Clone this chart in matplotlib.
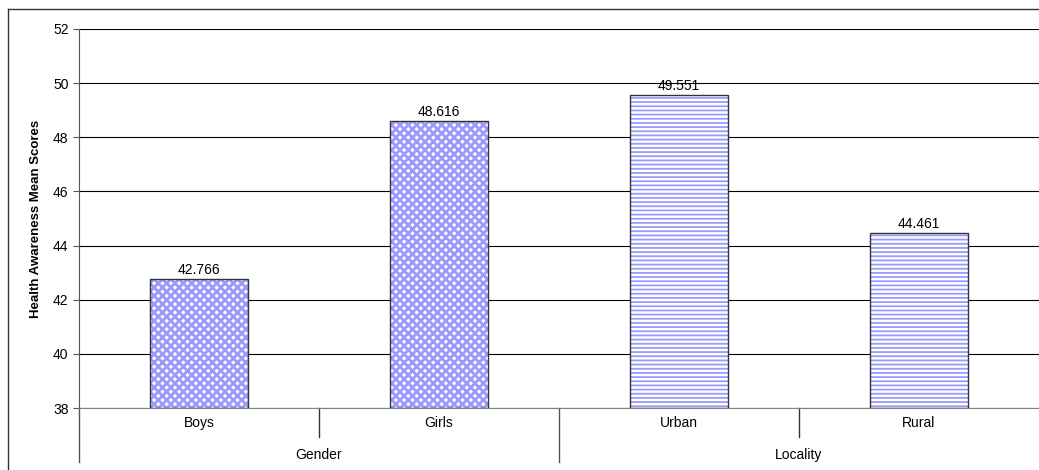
import matplotlib.pyplot as plt
import matplotlib.transforms as mtransforms
from matplotlib.lines import Line2D

categories = ['Boys', 'Girls', 'Urban', 'Rural']
scores = [42.766, 48.616, 49.551, 44.461]
groups = ['Gender', 'Locality']
group_members = [[0, 1], [2, 3]]
hatches = ['xxxx', 'xxxx', '----', '----']
hatch_widths = [2.0, 2.0, 1.3, 1.3]

plt.rcParams['font.family'] = ['Liberation Sans', 'DejaVu Sans']

fig = plt.figure(figsize=(10.39, 4.70), dpi=100)
ax = fig.add_axes([79 / 1039, 1 - 408 / 470, 1 - 79 / 1039, (408 - 29) / 470])

blue = '#9999ff'
x = list(range(len(categories)))
for i, s in enumerate(scores):
    with plt.rc_context({'hatch.linewidth': hatch_widths[i]}):
        ax.bar(x[i], s - 38, bottom=38, width=0.41, color='white',
               edgecolor=blue, hatch=hatches[i], linewidth=0, zorder=2)
ax.bar(x, [s - 38 for s in scores], bottom=38, width=0.41, fill=False,
       edgecolor='#333333', linewidth=1.0, zorder=3)

for i, s in enumerate(scores):
    ax.annotate(f'{s:.3f}', (x[i], s), xytext=(0, 1.5), textcoords='offset points',
                ha='center', va='bottom', fontsize=10, zorder=1)

ax.set_ylim(38, 52)
ax.set_xlim(-0.5, 3.5)
ax.set_yticks(range(38, 53, 2))
ax.yaxis.grid(True, color='black', linewidth=0.8)
ax.set_axisbelow(True)
ax.tick_params(axis='y', direction='out', length=4.5, width=0.8, color='#555555',
               labelsize=10, pad=3)
ax.set_xticks([])
ax.set_ylabel('Health Awareness Mean Scores', fontsize=9.5, fontweight='bold', labelpad=8)

for side in ['top', 'right']:
    ax.spines[side].set_visible(False)
ax.spines['bottom'].set_color('#808080')
ax.spines['left'].set_color('#555555')

h = 379.0
trans = mtransforms.blended_transform_factory(ax.transData, ax.transAxes)
# category separators
for xs in [0.5, 2.5]:
    ax.add_line(Line2D([xs, xs], [0, -29 / h], transform=trans, color='#333333',
                       linewidth=1.0, clip_on=False))
for xs in [-0.5, 1.5]:
    ax.add_line(Line2D([xs, xs], [0, -54 / h], transform=trans, color='#555555',
                       linewidth=1.0, clip_on=False))

for i, c in enumerate(categories):
    ax.text(x[i], -15 / h, c, transform=trans, ha='center', va='center', fontsize=10)
for g, members in zip(groups, group_members):
    gx = sum(members) / len(members)
    ax.text(gx, -47 / h, g, transform=trans, ha='center', va='center', fontsize=10)

# outer chart border
fig.add_artist(Line2D([7.5 / 1039, 7.5 / 1039], [0, 1 - 9 / 470], transform=fig.transFigure,
                      color='#333333', linewidth=1.0))
fig.add_artist(Line2D([7.5 / 1039, 1], [1 - 9 / 470, 1 - 9 / 470], transform=fig.transFigure,
                      color='#333333', linewidth=1.0))

fig.savefig('out.png', dpi=100)
